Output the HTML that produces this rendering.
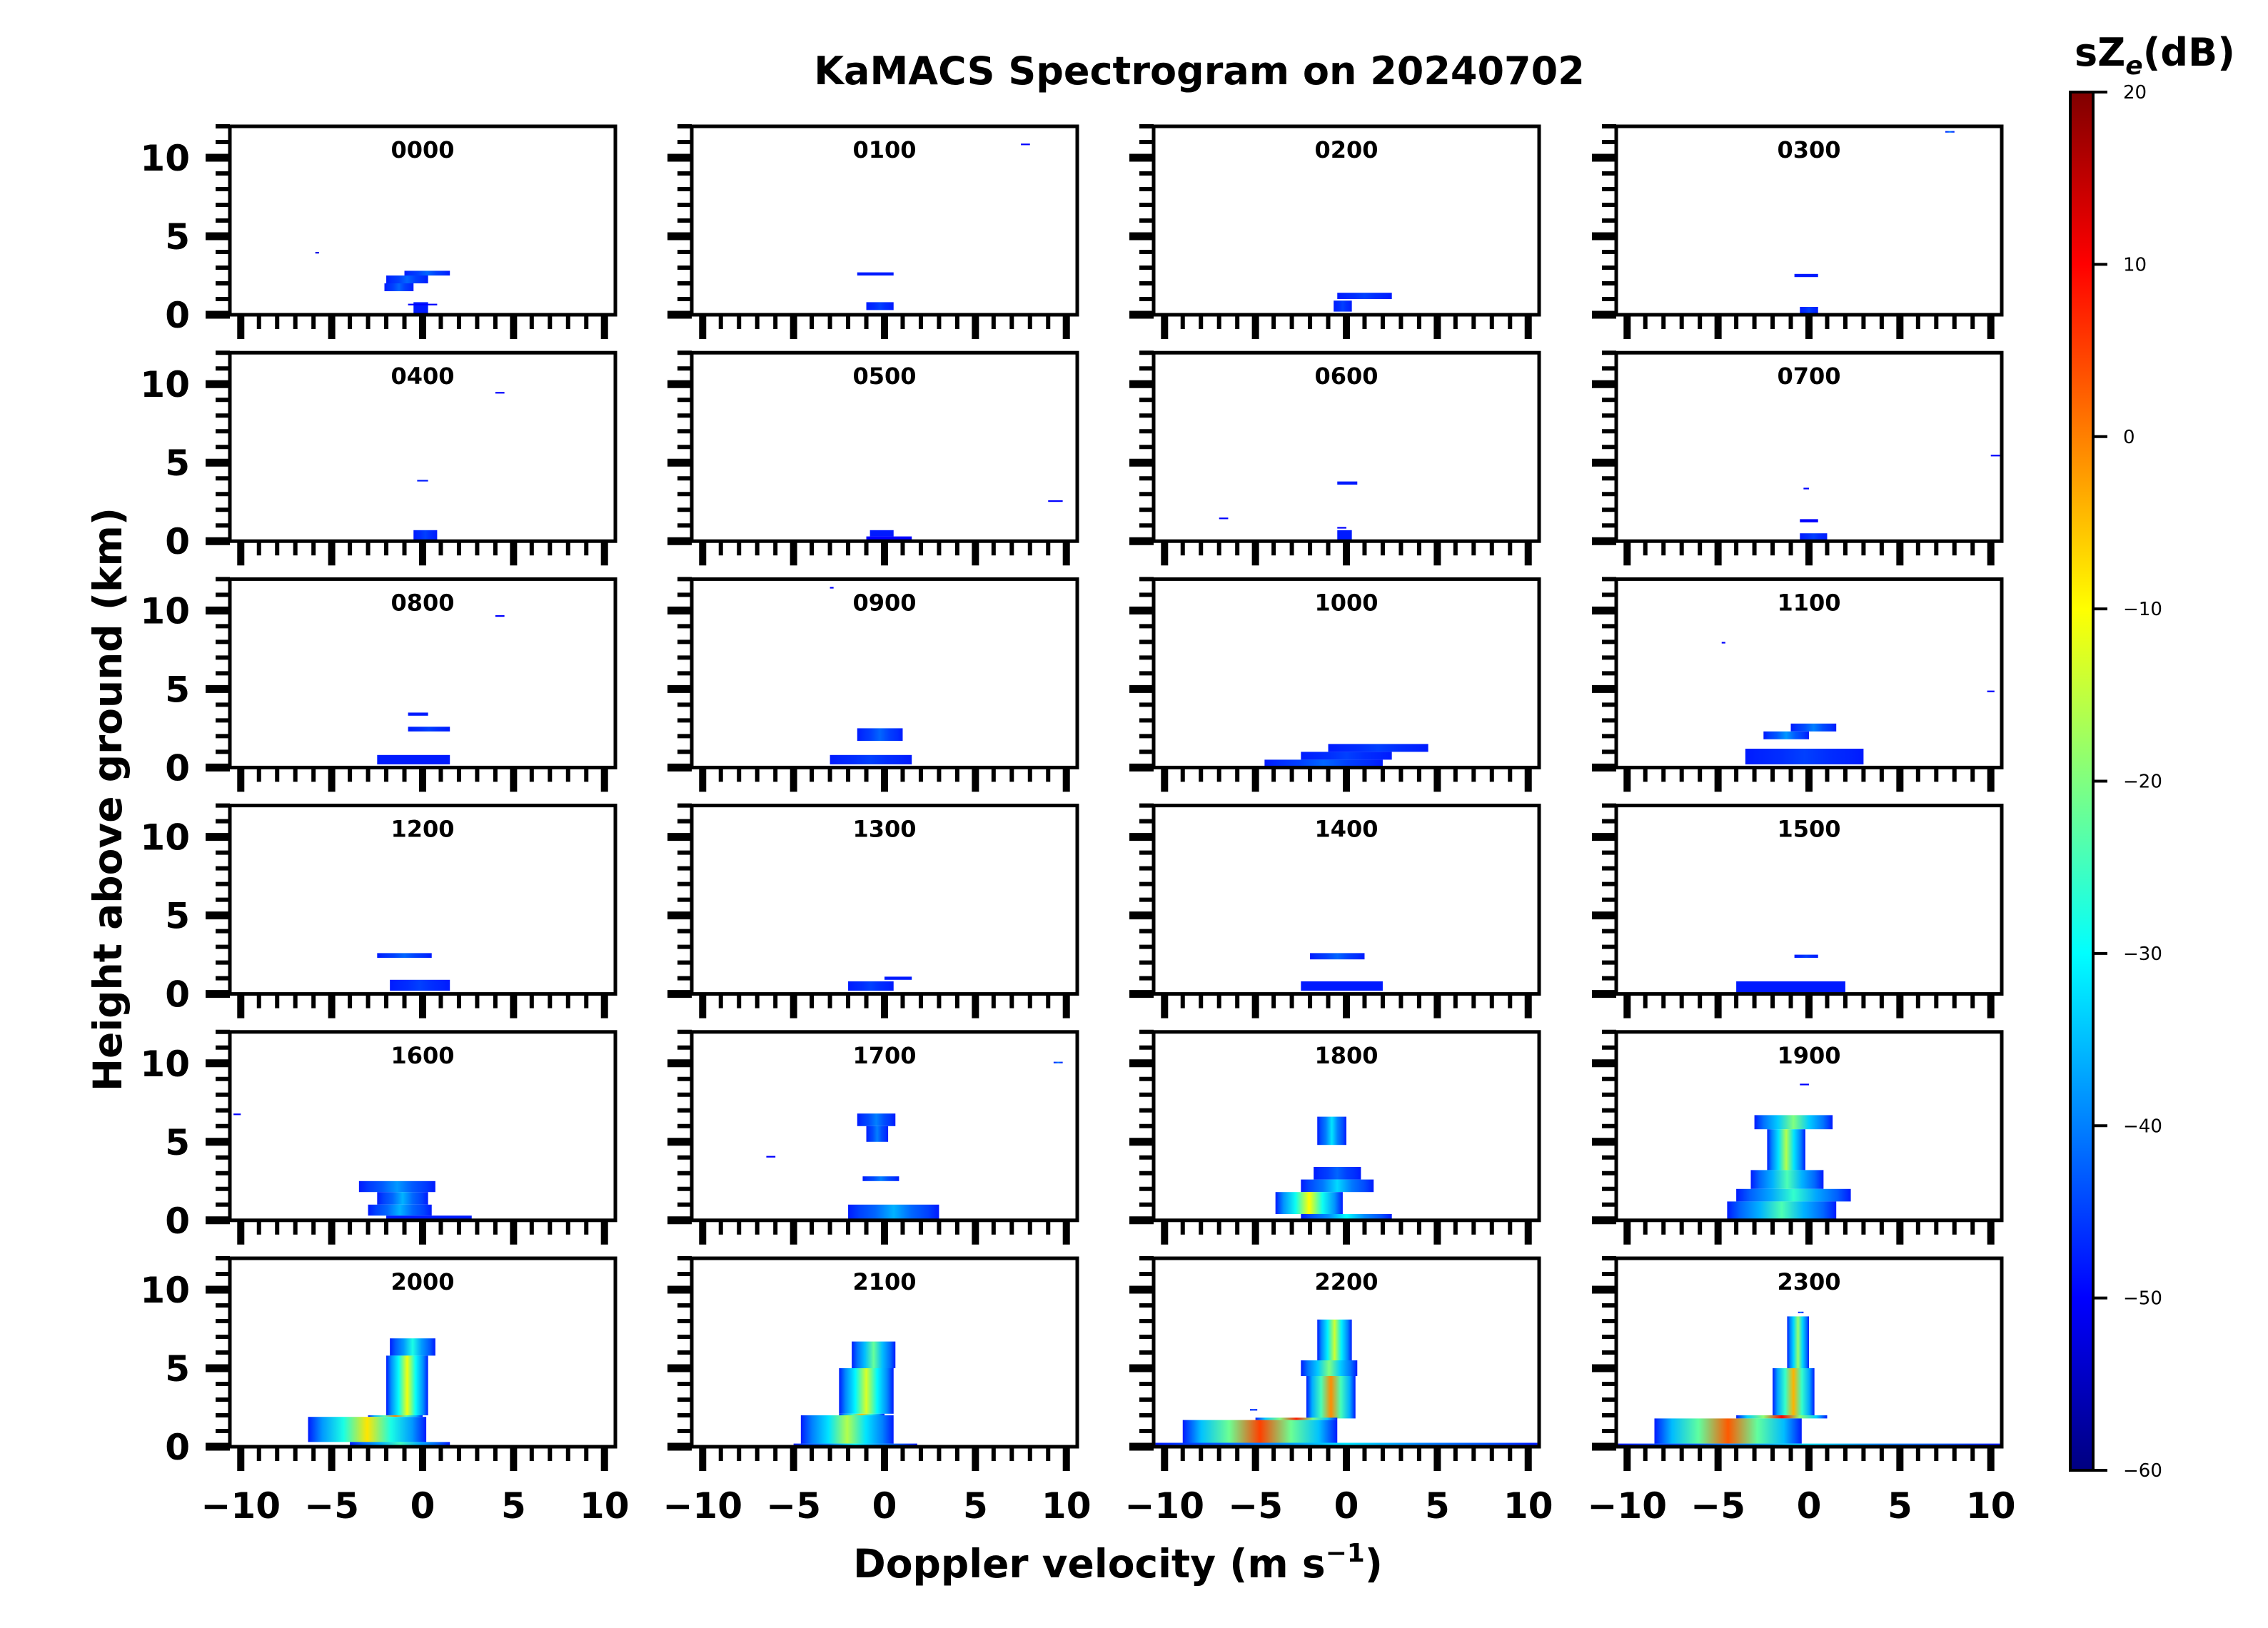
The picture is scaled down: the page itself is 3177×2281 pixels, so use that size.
<!DOCTYPE html>
<html><head><meta charset="utf-8"><style>
html,body{margin:0;padding:0;background:#fff;}
svg{display:block;font-family:"DejaVu Sans","Liberation Sans",sans-serif;}
</style></head><body>
<svg id="fig" xmlns="http://www.w3.org/2000/svg" width="3177" height="2281" viewBox="0 0 3177 2281">
<defs id="defs"></defs>
<rect width="3177" height="2281" fill="#fff"/>
<text x="1680" y="118" text-anchor="middle" font-size="54" font-weight="bold">KaMACS Spectrogram on 20240702</text>
<text x="1566" y="2210" text-anchor="middle" font-size="55" font-weight="bold">Doppler velocity (m s<tspan dy="-22" font-size="36">−1</tspan><tspan dy="22">)</tspan></text>
<text transform="translate(170,1120) rotate(-90)" text-anchor="middle" font-size="55" font-weight="bold">Height above ground (km)</text>
<g id="panels"></g>
<g id="cbar"></g>
</svg>
<script>
// ---- data ----
const panelTitles = ["0000","0100","0200","0300","0400","0500","0600","0700","0800","0900","1000","1100","1200","1300","1400","1500","1600","1700","1800","1900","2000","2100","2200","2300"];
// layers: [h_bottom_km, h_top_km, v_left, v_right, peak_dB]
const L0000 = [[2.5,2.8,-1.0,1.5,-42],[2.0,2.5,-2.0,0.3,-42],[1.5,2.0,-2.1,-0.5,-42],[0.0,0.8,-0.5,0.3,-48],[0.6,0.7,-0.8,0.8,-50],[3.9,4.0,-5.9,-5.7,-52]];
const L0100 = [[2.5,2.7,-1.5,0.5,-48],[0.3,0.8,-1.0,0.5,-45],[10.8,10.9,7.5,8.0,-50]];
const L0200 = [[1.0,1.4,-0.5,2.5,-45],[0.2,0.9,-0.7,0.3,-45]];
const L0300 = [[2.4,2.6,-0.8,0.5,-48],[0.1,0.5,-0.5,0.5,-45],[11.6,11.7,7.5,8.0,-40]];
const L0400 = [[0.1,0.7,-0.5,0.8,-45],[3.8,3.9,-0.3,0.3,-48],[9.4,9.5,4.0,4.5,-50]];
const L0500 = [[0.3,0.7,-0.8,0.5,-48],[0.0,0.3,-1.0,1.5,-50],[2.5,2.6,9.0,9.8,-50]];
const L0600 = [[3.6,3.8,-0.5,0.6,-48],[0.1,0.7,-0.5,0.3,-48],[1.4,1.5,-7.0,-6.5,-50],[0.8,0.9,-0.5,0.0,-50]];
const L0700 = [[0.1,0.5,-0.5,1.0,-45],[1.2,1.4,-0.5,0.5,-50],[3.3,3.4,-0.3,0.0,-50],[5.4,5.5,10.0,10.5,-50]];
const L0800 = [[0.2,0.8,-2.5,1.5,-48],[2.3,2.6,-0.8,1.5,-45],[3.3,3.5,-0.8,0.3,-48],[9.6,9.7,4.0,4.5,-50]];
const L0900 = [[1.7,2.5,-1.5,1.0,-42],[0.2,0.8,-3.0,1.5,-45],[11.4,11.5,-3.0,-2.8,-50]];
const L1000 = [[1.0,1.5,-1.0,4.5,-45],[0.5,1.0,-2.5,2.5,-45],[0.0,0.5,-4.5,2.0,-42]];
const L1100 = [[2.3,2.8,-1.0,1.5,-40],[1.8,2.3,-2.5,0.0,-38],[0.2,1.2,-3.5,3.0,-45],[7.9,8.0,-4.8,-4.6,-50],[4.8,4.9,9.8,10.2,-50]];
const L1200 = [[2.3,2.6,-2.5,0.5,-42],[0.2,0.9,-1.8,1.5,-45]];
const L1300 = [[0.2,0.8,-2.0,0.5,-45],[0.9,1.1,0.0,1.5,-48]];
const L1400 = [[2.2,2.6,-2.0,1.0,-42],[0.2,0.8,-2.5,2.0,-48]];
const L1500 = [[2.3,2.5,-0.8,0.5,-45],[0.1,0.8,-4.0,2.0,-48]];
const L1600 = [[1.8,2.5,-3.5,0.7,-38],[1.0,1.8,-2.5,0.3,-36],[0.3,1.0,-3.0,0.5,-36],[0.0,0.3,-2.0,2.7,-48],[6.7,6.8,-10.4,-10.0,-50]];
const L1700 = [[6.0,6.8,-1.5,0.6,-40],[5.0,6.0,-1.0,0.2,-40],[2.5,2.8,-1.2,0.8,-40],[0.0,1.0,-2.0,3.0,-36],[4.0,4.1,-6.5,-6.0,-50],[10.0,10.1,9.3,9.8,-40]];
const L1800 = [[4.8,6.6,-1.6,0.0,-32],[2.6,3.4,-1.8,0.8,-42],[1.8,2.6,-2.5,1.5,-33],[0.4,1.8,-3.9,-0.2,-10],[0.0,0.4,-2.5,2.5,-30]];
const L1900 = [[5.8,6.7,-3.0,1.3,-20],[3.2,5.8,-2.3,-0.2,-16],[2.0,3.2,-3.2,0.8,-24],[1.2,2.0,-4.0,2.3,-26],[0.0,1.2,-4.5,1.5,-24],[8.6,8.7,-0.5,0.0,-50]];
const L2000 = [[5.8,6.9,-1.8,0.7,-28],[2.0,5.8,-2.0,0.3,-11],[1.9,2.0,-3.0,0.0,0],[0.3,1.9,-6.3,0.2,-8],[0.0,0.3,-4.0,1.5,-25]];
const L2100 = [[5.0,6.7,-1.8,0.6,-22],[2.1,5.0,-2.5,0.5,-13],[2.0,2.1,-2.5,0.0,-5],[0.2,2.0,-4.6,0.5,-16],[0.0,0.2,-5.0,1.8,-30]];
const L2200 = [[5.5,8.1,-1.6,0.3,-14],[4.5,5.5,-2.5,0.6,-20],[1.8,4.5,-2.2,0.5,-1],[1.7,1.85,-5.0,-0.5,8],[0.2,1.7,-9.0,-0.5,5],[0.1,0.25,-10.5,10.5,-32],[2.3,2.4,-5.3,-4.9,-45]];
const L2300 = [[5.0,8.3,-1.2,0.0,-18],[2.0,5.0,-2.0,0.3,-4],[1.8,2.0,-4.0,1.0,10],[0.2,1.8,-8.5,-0.4,3],[0.1,0.2,-10.5,10.5,-32],[8.5,8.6,-0.6,-0.3,-40]];
const panelLayers = [L0000,L0100,L0200,L0300,L0400,L0500,L0600,L0700,L0800,L0900,L1000,L1100,L1200,L1300,L1400,L1500,L1600,L1700,L1800,L1900,L2000,L2100,L2200,L2300];
const xTickLabels = ["−10","−5","0","5","10"];
const xTickValues = [-10,-5,0,5,10];
const yTickValues = [0,5,10];
const cbarTickValues = [20,10,0,-10,-20,-30,-40,-50,-60];

// ---- layout ----
const NS = "http://www.w3.org/2000/svg";
const colLeft = [322, 969, 1616, 2264];
const PW = 540, PH = 264, ROW0 = 177, ROWSTEP = 317.2;
const XMIN = -10.6, XMAX = 10.6, YMIN = 0, YMAX = 12;
const VMIN = -60, VMAX = 20;
function jet(v){
  let t = (v - VMIN) / (VMAX - VMIN); t = Math.max(0, Math.min(1, t));
  const c = x => Math.round(255 * Math.max(0, Math.min(1, x)));
  return `rgb(${c(1.5-Math.abs(4*t-3))},${c(1.5-Math.abs(4*t-2))},${c(1.5-Math.abs(4*t-1))})`;
}
function el(tag, attrs, parent){
  const e = document.createElementNS(NS, tag);
  for (const k in attrs) e.setAttribute(k, attrs[k]);
  parent.appendChild(e);
  return e;
}
const defs = document.getElementById('defs');
const panels = document.getElementById('panels');
let gid = 0;

panelTitles.forEach((title, i) => {
  const r = Math.floor(i / 4), c = i % 4;
  const x0 = colLeft[c], y0 = ROW0 + r * ROWSTEP;
  const sx = v => x0 + (v - XMIN) / (XMAX - XMIN) * PW;
  const sy = h => y0 + PH - (h - YMIN) / (YMAX - YMIN) * PH;
  const g = el('g', {}, panels);
  
  
  const clipId = 'clip' + i;
  const cp = el('clipPath', {id: clipId}, defs);
  el('rect', {x: x0, y: y0, width: PW, height: PH}, cp);
  const dg = el('g', {'clip-path': `url(#${clipId})`}, g);
  panelLayers[i].forEach(L => {
    const [h0, h1, v0, v1, pk] = L;
    const id = 'gr' + (gid++);
    const lg = el('linearGradient', {id: id, x1: 0, x2: 1, y1: 0, y2: 0}, defs);
    const edge = Math.min(-48, pk), mid = (edge + pk) / 2;
    [[0, edge], [0.12, (edge + mid) / 2], [0.3, mid], [0.5, pk], [0.7, mid], [0.88, (edge + mid) / 2], [1, edge]].forEach(s => {
      el('stop', {offset: s[0], 'stop-color': jet(s[1])}, lg);
    });
    const rx = sx(v0), ry = sy(h1);
    const rc = el('rect', {x: rx, y: ry, width: Math.max(2, sx(v1) - rx), height: Math.max(2, sy(h0) - ry), fill: `url(#${id})`}, dg);
    
    
  });
  for (let v = -10; v <= 10; v++) {
    const major = v % 5 === 0;
    el('line', {x1: sx(v), x2: sx(v), y1: y0 + PH, y2: y0 + PH + (major ? 34 : 20), stroke: '#000', 'stroke-width': major ? 10 : 6}, g);
  }
  for (let h = 0; h <= 12; h++) {
    const major = h % 5 === 0;
    el('line', {x1: x0, x2: x0 - (major ? 34 : 20), y1: sy(h), y2: sy(h), stroke: '#000', 'stroke-width': major ? 11 : 6}, g);
  }
  const frame = el('rect', {x: x0, y: y0, width: PW, height: PH, fill: 'none', stroke: '#000', 'stroke-width': 5}, g);
  
  
  const t = el('text', {x: x0 + PW / 2, y: y0 + 44, 'text-anchor': 'middle', 'font-size': 32, 'font-weight': 'bold'}, g);
  t.textContent = title;
  
  
  if (c === 0) {
    yTickValues.forEach(h => {
      const yl = el('text', {x: x0 - 56, y: sy(h) + 18, 'text-anchor': 'end', 'font-size': 50, 'font-weight': 'bold'}, g);
      yl.textContent = String(h);
      
      
    });
  }
  if (r === 5) {
    xTickValues.forEach((v, k) => {
      const xl = el('text', {x: sx(v), y: y0 + PH + 100, 'text-anchor': 'middle', 'font-size': 50, 'font-weight': 'bold'}, g);
      xl.textContent = xTickLabels[k];
      
      
    });
  }
});

// ---- colorbar ----
const cb = document.getElementById('cbar');


const CBX = 2900, CBW = 32, CBT = 129, CBB = 2060;
const cg = el('linearGradient', {id: 'cbgrad', x1: 0, x2: 0, y1: 1, y2: 0}, defs);
for (let k = 0; k <= 40; k++) el('stop', {offset: k / 40, 'stop-color': jet(VMIN + k / 40 * (VMAX - VMIN))}, cg);
el('rect', {x: CBX, y: CBT, width: CBW, height: CBB - CBT, fill: 'url(#cbgrad)', stroke: '#000', 'stroke-width': 4}, cb);
const cy = v => CBB - (v - VMIN) / (VMAX - VMIN) * (CBB - CBT);
cbarTickValues.forEach(v => {
  el('line', {x1: CBX + CBW, x2: CBX + CBW + 20, y1: cy(v), y2: cy(v), stroke: '#000', 'stroke-width': 4}, cb);
  const tl = el('text', {x: CBX + CBW + 42, y: cy(v) + 9, 'font-size': 26}, cb);
  tl.textContent = v < 0 ? '−' + Math.abs(v) : String(v);
  
  
});
const ct = el('text', {x: 2906, y: 92, 'font-size': 54, 'font-weight': 'bold'}, cb);
ct.innerHTML = 'sZ<tspan font-size="36" dy="12" font-style="italic">e</tspan><tspan dy="-12">(dB)</tspan>';


</script>
</body></html>
